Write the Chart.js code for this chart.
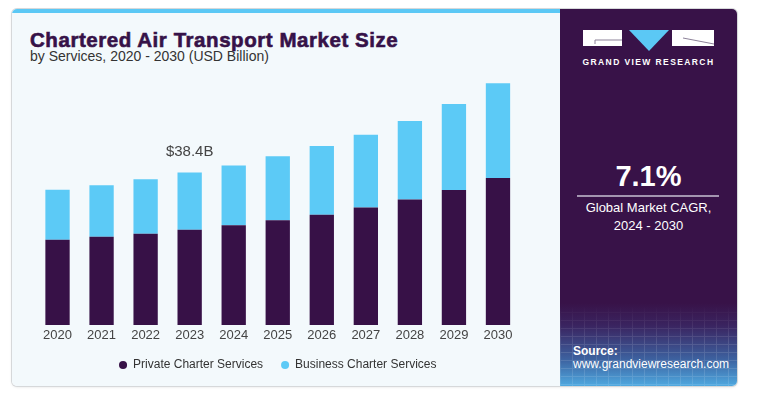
<!DOCTYPE html>
<html>
<head>
<meta charset="utf-8">
<script src="https://cdn.jsdelivr.net/npm/chart.js@4/dist/chart.umd.min.js"></script>
<style>
html,body{margin:0;padding:0;background:#fff;width:766px;height:396px;overflow:hidden;font-family:"Liberation Sans",Arial,sans-serif;}
#card{position:absolute;left:12px;top:9px;width:725px;height:377px;border-radius:5px;box-shadow:0 0 0 1px #d6d8da,0 1px 3px rgba(0,0,0,0.12);overflow:hidden;}
#left{position:absolute;left:0;top:0;width:548px;height:377px;background:#f3f9fc;}
#strip{position:absolute;left:0;top:0;width:548px;height:4px;background:#5bc8f5;}
#title{position:absolute;left:18px;top:20.6px;font-size:20.5px;line-height:20px;letter-spacing:0.55px;font-weight:bold;color:#361248;white-space:nowrap;-webkit-text-stroke:0.6px #361248;}
#subtitle{position:absolute;left:18px;top:39.5px;font-size:14px;line-height:14px;color:#333;white-space:nowrap;}
#chartBox{position:absolute;left:0;top:51px;width:548px;height:321px;}
#right{position:absolute;left:548px;top:0;width:177px;height:377px;background:linear-gradient(to bottom,#381248 0%,#381248 78%,#3a2460 84%,#3d62a0 93%,#4fa9e0 100%);}
#grid{position:absolute;left:0;top:295px;width:177px;height:82px;opacity:0.13;
background-image:repeating-linear-gradient(to right,rgba(255,255,255,0.9) 0 1px,transparent 1px 12px),repeating-linear-gradient(to bottom,rgba(255,255,255,0.9) 0 1px,transparent 1px 8px);
-webkit-mask-image:linear-gradient(to bottom,transparent,#000 45%);mask-image:linear-gradient(to bottom,transparent,#000 45%);}
#logo{position:absolute;left:23px;top:21px;}
#brand{position:absolute;left:0;width:177px;top:49px;text-align:center;font-size:8.5px;line-height:9px;font-weight:bold;color:#fff;letter-spacing:1.4px;white-space:nowrap;}
#cagr{position:absolute;left:0;width:177px;top:153px;text-align:center;font-size:29px;line-height:29px;font-weight:bold;color:#fff;}
#rule{position:absolute;left:17px;top:186px;width:142px;height:1.5px;background:#a395b0;}
#cagrText{position:absolute;left:0;width:177px;top:190px;text-align:center;font-size:13px;line-height:18px;color:#fff;}
#source{position:absolute;left:13px;top:336px;font-size:12px;line-height:13px;color:#fff;white-space:nowrap;}
#source b{font-weight:bold;}
</style>
</head>
<body>
<div id="card">
  <div id="left">
    <div id="strip"></div>
    <div id="title">Chartered Air Transport Market Size</div>
    <div id="subtitle">by Services, 2020 - 2030 (USD Billion)</div>
    <div id="chartBox"><canvas id="c"></canvas></div>
  </div>
  <div id="right">
    <div id="grid"></div>
    <svg id="logo" width="132" height="22" viewBox="0 0 132 22">
      <rect x="0" y="0" width="39" height="16" fill="#ffffff"/>
      <polyline points="12,14 12,10 39,10" fill="none" stroke="#8d8299" stroke-width="1"/>
      <polygon points="46,0 86,0 66,21" fill="#5bc8f5"/>
      <rect x="89" y="0" width="42" height="16" fill="#ffffff"/>
      <line x1="100" y1="8" x2="131" y2="14" stroke="#8d8299" stroke-width="1"/>
    </svg>
    <div id="brand">GRAND VIEW RESEARCH</div>
    <div id="cagr">7.1%</div>
    <div id="rule"></div>
    <div id="cagrText">Global Market CAGR,<br>2024 - 2030</div>
    <div id="source"><b>Source:</b><br>www.grandviewresearch.com</div>
  </div>
</div>
<script>
const years = ['2020','2021','2022','2023','2024','2025','2026','2027','2028','2029','2030'];
const privateCharter = [21.5,22.2,23.0,24.0,25.1,26.4,27.8,29.6,31.6,34.0,37.0];
const businessCharter = [12.6,13.0,13.7,14.4,15.1,16.1,17.3,18.3,19.8,21.7,23.9];
const seriesNames = ['Private Charter Services','Business Charter Services'];
const annotatedYear = '2023';
const annotationText = '$38.4B';

const annotate = {
  id:'annotate',
  afterDatasetsDraw(chart){
    const idx = years.indexOf(annotatedYear);
    const bar = chart.getDatasetMeta(1).data[idx];
    const ctx = chart.ctx;
    ctx.save();
    ctx.font = '15px "Liberation Sans", Arial, sans-serif';
    ctx.fillStyle = '#444';
    ctx.textAlign = 'center';
    ctx.textBaseline = 'middle';
    ctx.fillText(annotationText, bar.x, bar.y - 21);
    ctx.restore();
  }
};

new Chart(document.getElementById('c'), {
  type:'bar',
  data:{
    labels:years,
    datasets:[
      {label:seriesNames[0],data:privateCharter,backgroundColor:'#371147',borderWidth:0},
      {label:seriesNames[1],data:businessCharter,backgroundColor:'#5ccaf6',borderWidth:0}
    ]
  },
  options:{
    responsive:true,
    maintainAspectRatio:false,
    animation:false,
    events:[],
    layout:{padding:{left:23.5,right:40,top:3,bottom:0}},
    datasets:{bar:{categoryPercentage:0.8,barPercentage:0.69}},
    scales:{
      x:{stacked:true,grid:{display:false,drawTicks:false},border:{display:false},
         afterFit(scale){ scale.height = 16; },
         ticks:{color:'#444',padding:3,font:{family:'"Liberation Sans", Arial, sans-serif',size:13}}},
      y:{stacked:true,display:false,min:0,max:66}
    },
    plugins:{
      tooltip:{enabled:false},
      legend:{position:'bottom',
        labels:{usePointStyle:true,pointStyle:'circle',boxWidth:8,boxHeight:5.7,padding:18,color:'#333',
          font:{family:'"Liberation Sans", Arial, sans-serif',size:12}}}
    }
  },
  plugins:[annotate]
});
</script>
</body>
</html>
